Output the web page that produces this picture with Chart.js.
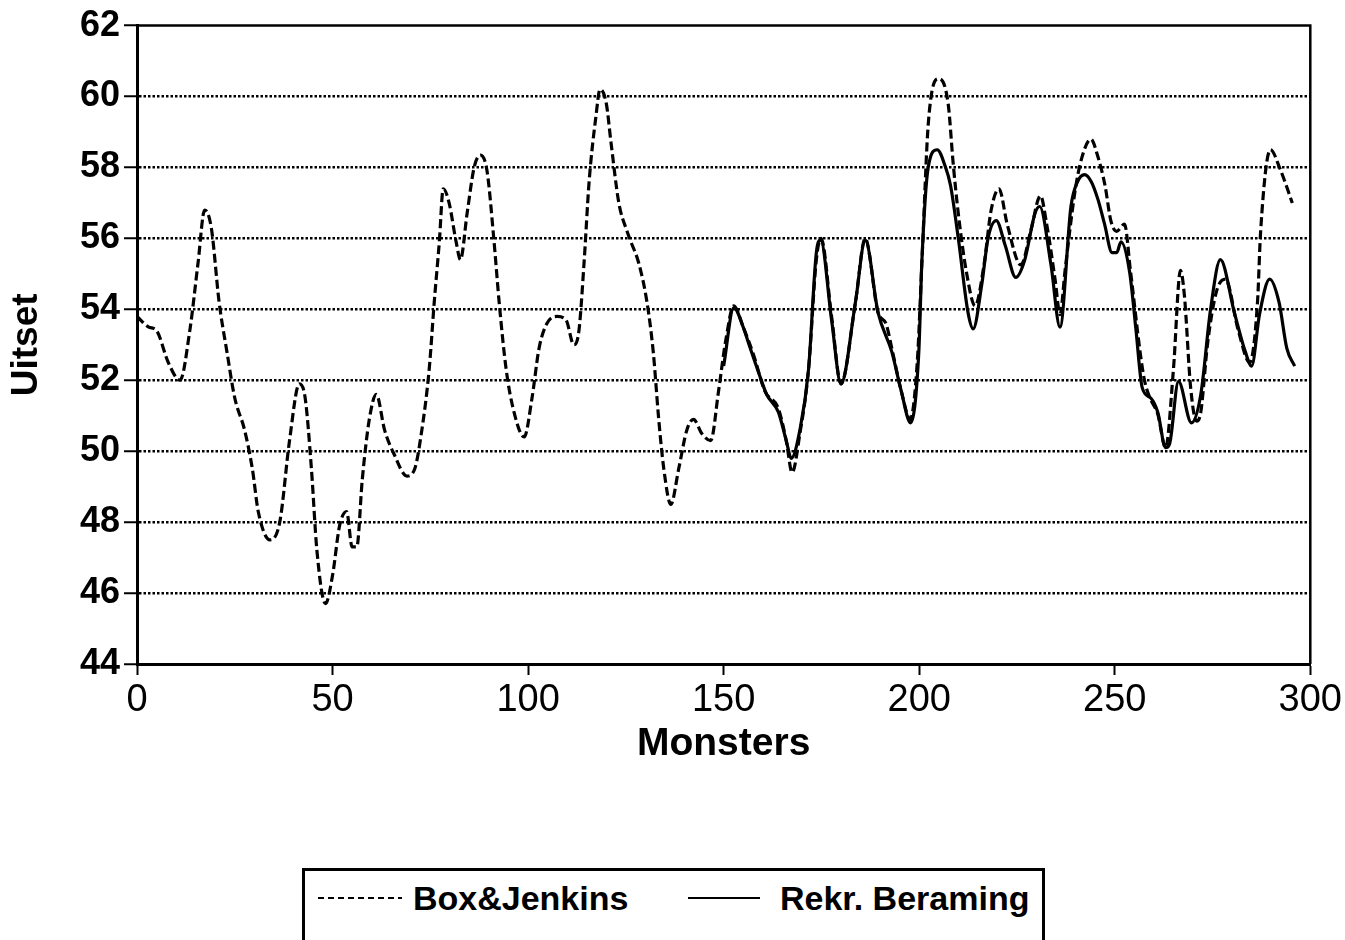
<!DOCTYPE html>
<html>
<head>
<meta charset="utf-8">
<script src="https://cdn.jsdelivr.net/npm/chart.js@4"></script>
<style>
	body { margin: 0; background: #fff; width: 1345px; height: 940px; overflow: hidden; position: relative; font-family: 'Liberation Sans', Arial, sans-serif; }
	#wrap { position: absolute; left: 0; top: 0; width: 1345px; height: 780px; }
	#legend { position: absolute; left: 302px; top: 868px; width: 737px; height: 120px; border: 3px solid #000; }
	.sample { position: absolute; height: 2px; }
	.dash { background: repeating-linear-gradient(90deg, #000 0 6px, transparent 6px 10px); }
	.solid { background: #000; }
	.ltext { position: absolute; font-weight: bold; font-size: 34px; line-height: 40px; white-space: nowrap; }
</style>
</head>
<body>
<div id="wrap"><canvas id="myChart"></canvas></div>
<div id="legend"></div>
<div class="sample dash" style="left:318px; top:897px; width:84px;"></div>
<div class="ltext" style="left:413px; top:878px;">Box&amp;Jenkins</div>
<div class="sample solid" style="left:688px; top:897px; width:72px;"></div>
<div class="ltext" style="left:780px; top:878px;">Rekr. Beraming</div>
<script>
const ctx = document.getElementById('myChart').getContext('2d');

// Box&Jenkins (dashed)
const bj_months = [
	0, 3, 5, 8, 11, 13.5, 15.6, 17.3, 19, 21,
	23, 25, 27.5, 29.5, 31, 34, 36.5, 39, 41.5, 43,
	44.6, 46, 48.2, 50, 51.8, 53.6, 55, 56.2, 57.6, 59.4,
	61.2, 63.3, 65.8, 69, 71, 72.7, 74.7, 76, 77.3, 78.3,
	79.8, 81.6, 82.7, 84.4, 86.2, 87.8, 89.5, 91.3, 92.6, 94.4,
	96.4, 99, 101, 102.8, 104.8, 107.4, 109.7, 111.7, 113, 114.3,
	115.6, 117.3, 118.4, 120, 121.2, 123.2, 125.3, 126.3, 128.3, 130.4,
	132, 133.4, 134.7, 136.5, 138.5, 140.6, 142.3, 144.4, 146.7, 148.7,
	150.5, 152.6, 155, 157.7, 160.5, 164, 166, 167.5, 169.5, 171.7,
	173.7, 174.9, 177.6, 180, 183.7, 186.2, 189.5, 191.5, 193, 195.4,
	197.7, 199.5, 200.8, 202.3, 205, 207.4, 208.7, 210, 212, 214.3,
	216.5, 218.4, 220.4, 222.5, 226, 228.5, 231, 232.6, 234.8, 236,
	237.3, 239.8, 241.4, 243.9, 245.7, 247.5, 249, 250.5, 252.5, 254,
	256.6, 257.6, 259, 261, 263, 265, 266.8, 267.8, 269.4, 270.9,
	272, 273.7, 276, 278.3, 281.6, 284.5, 286.5, 287.3, 289.8, 292.3, 295.4,
];
const bj_values = [
	53.8, 53.5, 53.4, 52.5, 52.0, 53.4, 55.3, 56.8, 56.3, 54.2,
	52.8, 51.5, 50.6, 49.5, 48.3, 47.5, 48.0, 50.3, 51.9, 51.5,
	49.5, 47.2, 45.7, 46.5, 47.9, 48.3, 47.3, 47.3, 49.2, 50.9,
	51.6, 50.6, 49.9, 49.3, 49.5, 50.5, 52.3, 54.2, 55.9, 57.4,
	57.0, 55.9, 55.4, 56.7, 58.0, 58.35, 57.9, 55.9, 54.2, 52.3,
	51.1, 50.4, 51.5, 52.9, 53.6, 53.8, 53.7, 53.0, 53.4, 55.3,
	57.6, 59.4, 60.2, 59.8, 58.7, 57.0, 56.2, 55.9, 55.3, 54.2,
	52.8, 50.9, 49.5, 48.5, 49.5, 50.6, 50.9, 50.5, 50.3, 51.7,
	53.1, 54.1, 53.5, 52.7, 51.7, 51.2, 50.3, 49.4, 50.5, 52.3,
	55.4, 56.0, 53.8, 51.9, 54.2, 56.0, 53.9, 53.6, 52.9, 51.7,
	50.9, 52.5, 55.6, 59.2, 60.5, 59.8, 58.1, 56.7, 55.1, 54.1,
	55.2, 56.8, 57.4, 56.4, 55.25, 56.2, 57.2, 56.4, 54.8, 53.85,
	55.1, 57.3, 58.2, 58.8, 58.3, 57.5, 56.5, 56.2, 56.4, 55.1,
	52.7, 52.0, 51.5, 51.05, 50.1, 52.3, 55.1, 54.4, 51.8, 50.85,
	51.1, 53.0, 54.5, 54.85, 53.4, 52.5, 54.2, 56.2, 58.5, 57.95, 57.0,
];

// Rekr. Beraming (solid)
const rb_months = [
	150, 152.6, 155, 156.5, 159, 161, 164, 166, 167.3, 169.5,
	171.7, 173.7, 174.8, 177.6, 180, 183.7, 186.2, 189.5, 193, 195.4,
	197.8, 199.9, 200.7, 202.3, 204.6, 206.6, 208, 210, 212.5, 213.8,
	216, 217.6, 219.7, 222, 224.7, 227, 229.6, 230.8, 233.7, 236,
	238.8, 240.5, 242.3, 244, 245.7, 247.4, 249.3, 250.5, 251.6, 253.8,
	255.4, 257, 259.2, 261, 263, 264, 266.3, 269.6, 272, 274.5,
	277, 280.6, 283.4, 285, 287, 289.6, 292, 294, 296,
];
const rb_values = [
	52.4, 54.05, 53.5, 53.0, 52.2, 51.6, 51.1, 50.3, 49.8, 50.6,
	52.3, 55.6, 55.95, 53.7, 51.9, 54.2, 55.95, 53.9, 52.8, 51.7,
	50.8, 52.8, 55.4, 58.0, 58.5, 58.05, 57.5, 56.0, 53.9, 53.45,
	54.7, 56.0, 56.5, 55.8, 54.9, 55.4, 56.7, 56.9, 55.25, 53.5,
	56.9, 57.6, 57.8, 57.6, 57.1, 56.4, 55.6, 55.6, 55.9, 55.05,
	53.45, 51.8, 51.5, 51.1, 50.1, 50.2, 51.97, 50.8, 51.6, 54.0,
	55.4, 53.9, 52.8, 52.4, 53.85, 54.85, 54.2, 52.9, 52.4,
];

const x_min = 0, x_max = 300, x_step = 50;
const y_min = 44, y_max = 62, y_step = 2;

function toPoints(xs, ys) {
	return xs.map((x, i) => ({ x: x, y: ys[i] }));
}

// top and right edge of the plot frame
const frame = {
	id: 'frame',
	afterDraw(chart) {
		const a = chart.chartArea;
		const c = chart.ctx;
		c.save();
		c.strokeStyle = '#000';
		c.lineWidth = 2.5;
		c.beginPath();
		c.moveTo(a.left, a.top);
		c.lineTo(a.right, a.top);
		c.lineTo(a.right, a.bottom);
		c.stroke();
		c.restore();
	},
};

const font_family = "'Liberation Sans', Arial, sans-serif";

new Chart(ctx, {
	type: 'line',
	data: {
		datasets: [
			{
				label: 'Box&Jenkins',
				data: toPoints(bj_months, bj_values),
				borderColor: '#000',
				borderWidth: 3.2,
				borderDash: [9, 4],
				pointRadius: 0,
				fill: false,
				cubicInterpolationMode: 'monotone',
			},
			{
				label: 'Rekr. Beraming',
				data: toPoints(rb_months, rb_values),
				borderColor: '#000',
				borderWidth: 3.2,
				pointRadius: 0,
				fill: false,
				cubicInterpolationMode: 'monotone',
			},
		],
	},
	options: {
		responsive: true,
		maintainAspectRatio: false,
		animation: false,
		layout: { padding: { left: 0, top: 22, right: 33, bottom: 0 } },
		plugins: { legend: { display: false }, tooltip: { enabled: false } },
		scales: {
			x: {
				type: 'linear',
				min: x_min,
				max: x_max,
				ticks: { stepSize: x_step, color: '#000', padding: 3, maxRotation: 0, font: { family: font_family, size: 38 } },
				grid: { drawOnChartArea: false, tickLength: 11, tickColor: '#000', tickWidth: 2 },
				border: { color: '#000', width: 3 },
				title: { display: true, text: 'Monsters', color: '#000', padding: { top: 0, bottom: 12 }, font: { family: font_family, size: 39, weight: 'bold' } },
				afterFit(scale) { scale.height = 116; },
			},
			y: {
				min: y_min,
				max: y_max,
				ticks: { stepSize: y_step, color: '#000', padding: 4, font: { family: font_family, size: 36, weight: 'bold' } },
				grid: {
					color: (c) => (c.tick && (c.tick.value === y_min || c.tick.value === y_max)) ? 'rgba(0,0,0,0)' : '#000',
					lineWidth: 2.5,
					tickLength: 13,
					tickColor: '#000',
					tickWidth: 2,
				},
				border: { color: '#000', width: 3, dash: [2.5, 2] },
				title: { display: true, text: 'Uitset', color: '#000', padding: { top: 5, bottom: 0 }, font: { family: font_family, size: 37, weight: 'bold' } },
				afterFit(scale) { scale.width = 137; },
			},
		},
	},
	plugins: [frame],
});
</script>
</body>
</html>
